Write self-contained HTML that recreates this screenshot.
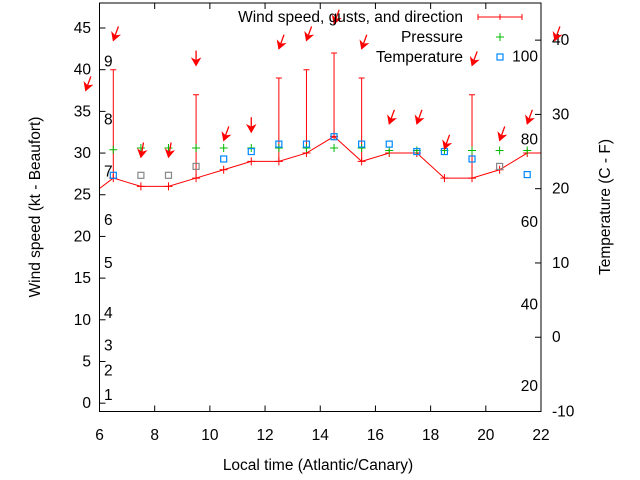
<!DOCTYPE html>
<html><head><meta charset="utf-8"><style>
body{margin:0;background:#fff;}
svg{display:block;font-family:"Liberation Sans",sans-serif;font-size:15.5px;}
</style></head><body>
<svg id="chart" width="640" height="480"></svg>
<script>
const times=[5.5,6.5,7.5,8.5,9.5,10.5,11.5,12.5,13.5,14.5,15.5,16.5,17.5,18.5,19.5,20.5,21.5,22.5];
const wind=[24.5,27,26,26,27,28,29,29,30,32,29,30,30,27,27,28,30,30];
const gusts=[34,40,null,null,37,null,null,39,40,42,39,null,null,null,37,null,null,40];
const dirs=[20,20,10,10,0,20,0,20,20,20,20,20,20,20,20,20,20,20];
const pressure=[null,30.4,30.6,30.6,30.6,30.6,30.6,30.6,30.6,30.6,30.6,30.3,30.3,30.3,30.3,30.3,30.3,null];
const temps=[null,21.8,21.8,21.8,23,24,25,26,26,27,26,26,25,25,24,23,21.9,null];
const tempGray=[0,0,1,1,1,0,0,0,0,0,0,0,0,0,0,1,0,0];
const xTicks=[6,8,10,12,14,16,18,20,22];
const yTicks=[0,5,10,15,20,25,30,35,40,45];
const y2Ticks=[-10,0,10,20,30,40];
const beaufort=[["1",1],["2",3.9],["3",6.9],["4",10.8],["5",16.8],["6",22],["7",27.8],["8",34],["9",41]];
const fahr=[["20",-6.6],["40",4.4],["60",15.5],["80",26.6],["100",37.8]];

const L=99.5,R=541,T=3,B=411.5;
const sx=v=>L+(v-6)/16*(R-L);
const sy=v=>B-(v+1)/49*(B-T);
const sy2=v=>B-(v+10)/55*(B-T);
const svg=document.getElementById('chart');
const NS='http://www.w3.org/2000/svg';
function el(tag,attrs,parent){const e=document.createElementNS(NS,tag);for(const k in attrs)e.setAttribute(k,attrs[k]);(parent||svg).appendChild(e);return e;}
function txt(x,y,s,anchor,parent){const t=el('text',{x:x,y:y,'text-anchor':anchor||'middle',fill:'#000'},parent);t.textContent=s;return t;}

const defs=el('defs',{});
const cp=el('clipPath',{id:'clip'},defs);
el('rect',{x:L,y:T,width:R-L,height:B-T},cp);

const axes=el('g',{});


xTicks.forEach(v=>{
 el('line',{x1:sx(v),x2:sx(v),y1:B,y2:B-6,stroke:'#000'},axes);
 el('line',{x1:sx(v),x2:sx(v),y1:T,y2:T+6,stroke:'#000'},axes);
 const t=txt(sx(v),440,String(v),'middle',axes);
 
 
});
yTicks.forEach(v=>{
 el('line',{x1:L,x2:L+6,y1:sy(v),y2:sy(v),stroke:'#000'},axes);
 const t=txt(91,sy(v)+5,String(v),'end',axes);
 
 
});
y2Ticks.forEach(v=>{
 el('line',{x1:R,x2:R-6,y1:sy2(v),y2:sy2(v),stroke:'#000'},axes);
 const t=txt(552,sy2(v)+5,String(v),'start',axes);
 
 
});
beaufort.forEach(b=>{const t=txt(104,sy(b[1])+5,b[0],'start',axes);
 
 });
fahr.forEach(b=>{const t=txt(538,sy2(b[1])+5,b[0],'end',axes);
 
 });

const plot=el('g',{'clip-path':'url(#clip)'});


el('polyline',{points:times.map((t,i)=>sx(t)+','+sy(wind[i])).join(' '),fill:'none',stroke:'#f00','stroke-width':1},plot);
times.forEach((t,i)=>{
 const x=sx(t),y=sy(wind[i]);
 el('path',{d:`M${x-4},${y}H${x+4}M${x},${y-4}V${y+4}`,stroke:'#f00'},plot);
 if(gusts[i]!=null){
  const g=el('path',{d:`M${x},${y}V${sy(gusts[i])}M${x-3},${sy(gusts[i])}H${x+3}`,stroke:'#f00'},plot);
  
  
 }
});
times.forEach((t,i)=>{if(pressure[i]==null)return;const x=sx(t),y=sy(pressure[i]);
 const p=el('path',{d:`M${x-4},${y}H${x+4}M${x},${y-4}V${y+4}`,stroke:'#0b0'},plot);
 
 });
times.forEach((t,i)=>{if(temps[i]==null)return;const x=sx(t),y=sy2(temps[i]);
 const r=el('rect',{x:x-3,y:y-3,width:6,height:6,fill:'none',stroke:tempGray[i]?'#888':'#08f','stroke-width':1.2},plot);
 
 });
times.forEach((t,i)=>{
 const base=gusts[i]!=null?gusts[i]:wind[i];
 const x=sx(t),y=sy(base+3.5);
 const a=dirs[i]*Math.PI/180,len=15;
 const tx=x+len*Math.sin(a),ty=y-len*Math.cos(a);
 const g=el('g',{});
 
 
 el('line',{x1:tx,y1:ty,x2:x,y2:y,stroke:'#f00','stroke-width':1.3},g);
 const ux=(x-tx)/len,uy=(y-ty)/len,px=-uy,py=ux;
 el('polygon',{points:`${x},${y} ${x-7*ux+4*px},${y-7*uy+4*py} ${x-5*ux},${y-5*uy} ${x-7*ux-4*px},${y-7*uy-4*py}`,fill:'#f00',stroke:'#f00'},g);
});
el('rect',{x:L,y:T,width:R-L,height:B-T,fill:'none',stroke:'#000'});

const lg=el('g',{});


txt(463,22,'Wind speed, gusts, and direction','end',lg);
el('path',{d:'M478,17H522M478,14V20M522,14V20M500,14V20',stroke:'#f00'},lg);
txt(463,42,'Pressure','end',lg);
el('path',{d:'M496,37H504M500,33V41',stroke:'#0b0'},lg);
txt(463,62,'Temperature','end',lg);
el('rect',{x:497,y:54,width:6,height:6,fill:'none',stroke:'#08f','stroke-width':1.2},lg);

const xl=txt(318,470,'Local time (Atlantic/Canary)');

const yl=txt(0,0,'Wind speed (kt - Beaufort)');
yl.setAttribute('transform','translate(40,207) rotate(-90)');

const y2l=txt(0,0,'Temperature (C - F)');
y2l.setAttribute('transform','translate(610,207) rotate(-90)');

</script>
</body></html>
